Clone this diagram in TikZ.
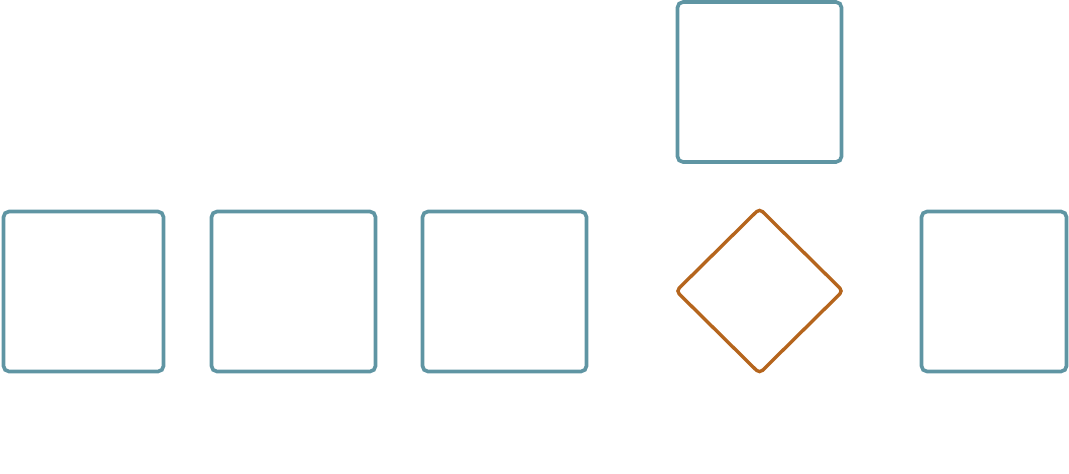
\documentclass[tikz,border=0pt]{standalone}
\usepackage{xcolor}
\usepackage{tikz}
\usetikzlibrary{shapes.geometric}

\definecolor{boxteal}{HTML}{5F95A3}
\definecolor{gateorange}{HTML}{B5651D}

\begin{document}
\begin{tikzpicture}[
  x=0.025cm, y=-0.025cm,
  box/.style={rectangle, draw=boxteal, line width=2.6pt, rounded corners=4pt,
              minimum height=4.0cm, inner sep=0pt},
  gate/.style={diamond, draw=gateorange, line width=2.4pt, rounded corners=3pt,
               minimum width=4.2cm, minimum height=4.15cm, inner sep=0pt},
  ]
  % --- canvas ---
  \useasboundingbox (0,0) rectangle (1069,473);

  % --- lower row ---
  \node[box, minimum width=4.0cm]   (stageA) at (83.5, 291.5) {};
  \node[box, minimum width=4.1cm]   (stageB) at (293.5, 291.5) {};
  \node[box, minimum width=4.1cm]   (stageC) at (504.5, 291.5) {};
  \node[gate]                       (check)  at (759.5, 291) {};
  \node[box, minimum width=3.625cm] (stageD) at (994, 291.5) {};

  % --- upper box ---
  \node[box, minimum width=4.1cm]   (side)   at (759.5, 82) {};

\end{tikzpicture}
\end{document}
